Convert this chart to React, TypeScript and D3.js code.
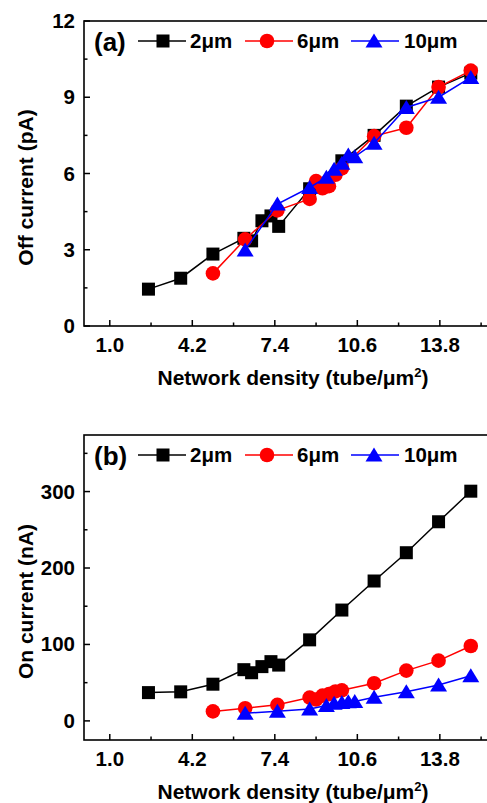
import React from 'react';
import * as d3 from 'd3';

const xTicks = [1.0, 4.2, 7.4, 10.6, 13.8];
const xMinorTicks = [2.6, 5.8, 9.0, 12.2, 15.4];

const offTicks = [0, 3, 6, 9, 12];
const offMinor = [1.5, 4.5, 7.5, 10.5];
const onTicks = [0, 100, 200, 300];
const onMinor = [50, 150, 250, 350];

const x2um = [2.5, 3.75, 5.0, 6.2, 6.5, 6.9, 7.25, 7.55, 8.75, 10.0, 11.25, 12.5, 13.75, 15.0];
const off2um = [1.45, 1.88, 2.83, 3.45, 3.35, 4.14, 4.33, 3.92, 5.4, 6.5, 7.5, 8.65, 9.4, 9.95];
const on2um = [37, 38, 48, 67, 63, 71, 77.5, 73, 106, 145, 183, 220, 260.5, 300.5];

const x6um = [5.0, 6.25, 7.5, 8.75, 9.0, 9.25, 9.5, 9.75, 10.0, 11.25, 12.5, 13.75, 15.0];
const off6um = [2.07, 3.41, 4.55, 5.0, 5.7, 5.42, 5.5, 5.95, 6.2, 7.47, 7.8, 9.4, 10.05];
const on6um = [12.4, 16.6, 21, 30.5, 28, 33, 35, 38.5, 40, 49.3, 65.8, 78.8, 98];

const x10um = [6.25, 7.5, 8.75, 9.4, 9.7, 10.0, 10.25, 10.5, 11.25, 12.5, 13.75, 15.0];
const off10um = [2.99, 4.8, 5.45, 5.85, 6.17, 6.4, 6.73, 6.66, 7.19, 8.6, 9.0, 9.78];
const on10um = [10, 12.5, 15.5, 20, 23, 24, 25, 25.5, 31, 38, 47, 59];

const seriesNames = ['2μm', '6μm', '10μm'];
const colors = ['#000000', '#ff0000', '#0000ff'];

const FONT = "'Liberation Sans', Arial, Helvetica, sans-serif";

const LEFT = 84;
const RIGHT = 494;
const PH = 305;

function Marker({ kind, cx, cy, color }: { kind: number; cx: number; cy: number; color: string }) {
  if (kind === 0) {
    return <rect x={cx - 6.5} y={cy - 6.5} width={13} height={13} fill={color} />;
  }
  if (kind === 1) {
    return <circle cx={cx} cy={cy} r={7.3} fill={color} />;
  }
  return <path d={`M${cx},${cy - 7.5}L${cx + 8.5},${cy + 6.5}L${cx - 8.5},${cy + 6.5}Z`} fill={color} />;
}

function Panel({ top, yDomain, yTicks, yMinor, xs, ys, label, ytitle }: any) {
  const x = d3.scaleLinear().domain([0, 15.9]).range([LEFT, RIGHT]);
  const y = d3.scaleLinear().domain(yDomain).range([top + PH, top]);
  const bottom = top + PH;
  const line = d3.line<[number, number]>().x(d => x(d[0])).y(d => y(d[1]));
  const legY = top + 20;
  const legItems = [
    { x1: 138, x2: 186, mx: 163, tx: 190 },
    { x1: 245, x2: 293, mx: 267, tx: 297 },
    { x1: 351, x2: 399, mx: 374, tx: 404 },
  ];
  return (
    <g>
      {/* frame */}
      <rect x={LEFT} y={top} width={RIGHT - LEFT} height={PH} fill="none" stroke="#000" strokeWidth={1.6} />
      {/* x ticks */}
      {xTicks.map(t => (
        <g key={'xt' + t}>
          <line x1={x(t)} x2={x(t)} y1={bottom} y2={bottom - 6} stroke="#000" strokeWidth={1.5} />
          <text x={x(t)} y={bottom + 26} textAnchor="middle" fontFamily={FONT} fontWeight="bold" fontSize={20.5} fill="#000">
            {t.toFixed(1)}
          </text>
        </g>
      ))}
      {xMinorTicks.map(t => (
        <line key={'xm' + t} x1={x(t)} x2={x(t)} y1={bottom} y2={bottom - 3.5} stroke="#000" strokeWidth={1.5} />
      ))}
      {/* y ticks */}
      {yTicks.map((t: number) => (
        <g key={'yt' + t}>
          <line x1={LEFT} x2={LEFT + 6} y1={y(t)} y2={y(t)} stroke="#000" strokeWidth={1.5} />
          <text x={75} y={y(t) + 7} textAnchor="end" fontFamily={FONT} fontWeight="bold" fontSize={20.5} fill="#000">
            {t}
          </text>
        </g>
      ))}
      {yMinor.map((t: number) => (
        <line key={'ym' + t} x1={LEFT} x2={LEFT + 3.5} y1={y(t)} y2={y(t)} stroke="#000" strokeWidth={1.5} />
      ))}
      {/* axis titles */}
      <text x={293} y={bottom + 58.5} textAnchor="middle" fontFamily={FONT} fontWeight="bold" fontSize={21} fill="#000">
        Network density (tube/μm<tspan dy={-8} fontSize={13}>2</tspan><tspan dy={8}>)</tspan>
      </text>
      <text
        transform={`translate(33,${top + PH / 2 + 14}) rotate(-90)`}
        textAnchor="middle"
        fontFamily={FONT}
        fontWeight="bold"
        fontSize={21}
        fill="#000"
      >
        {ytitle}
      </text>
      {/* data */}
      {xs.map((xv: number[], i: number) => {
        const pts: [number, number][] = xv.map((v, j) => [v, ys[i][j]]);
        return (
          <g key={'s' + i}>
            <path d={line(pts) || ''} fill="none" stroke={colors[i]} strokeWidth={1.5} />
            {pts.map((p, j) => (
              <Marker key={j} kind={i} cx={x(p[0])} cy={y(p[1])} color={colors[i]} />
            ))}
          </g>
        );
      })}
      {/* legend */}
      <text x={94} y={top + 30} fontFamily={FONT} fontWeight="bold" fontSize={26} fill="#000">{label}</text>
      {legItems.map((l, i) => (
        <g key={'l' + i}>
          <line x1={l.x1} x2={l.x2} y1={legY} y2={legY} stroke={colors[i]} strokeWidth={1.5} />
          <Marker kind={i} cx={l.mx} cy={legY} color={colors[i]} />
          <text x={l.tx} y={legY + 7} fontFamily={FONT} fontWeight="bold" fontSize={20.5} fill="#000">
            {seriesNames[i]}
          </text>
        </g>
      ))}
    </g>
  );
}

export default function App() {
  return (
    <svg
      width={487}
      height={803}
      style={{ position: 'absolute', left: 0, top: 0, background: '#fff', overflow: 'hidden' }}
    >
      <rect x={0} y={0} width={487} height={803} fill="#fff" />
      <Panel
        top={21}
        yDomain={[0, 12]}
        yTicks={offTicks}
        yMinor={offMinor}
        xs={[x2um, x6um, x10um]}
        ys={[off2um, off6um, off10um]}
        label="(a)"
        ytitle="Off current (pA)"
      />
      <Panel
        top={435}
        yDomain={[-25, 374]}
        yTicks={onTicks}
        yMinor={onMinor}
        xs={[x2um, x6um, x10um]}
        ys={[on2um, on6um, on10um]}
        label="(b)"
        ytitle="On current (nA)"
      />
    </svg>
  );
}
